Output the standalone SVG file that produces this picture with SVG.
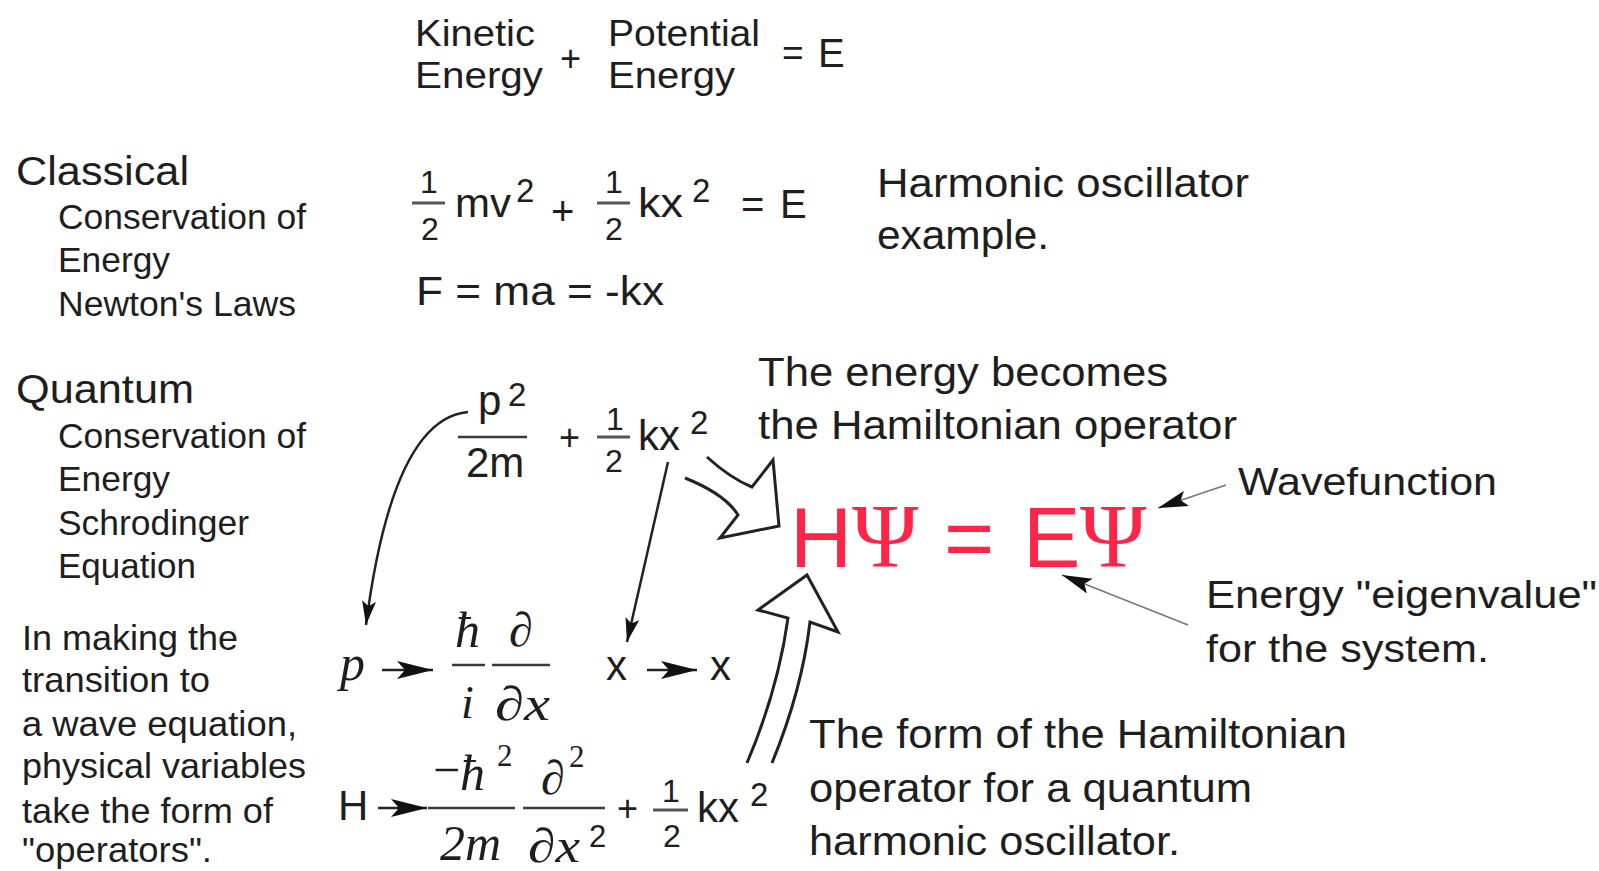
<svg xmlns="http://www.w3.org/2000/svg" width="1599" height="871" viewBox="0 0 1599 871">
<style>
text{font-family:"Liberation Sans",Arial,sans-serif;fill:#1e1e1e}
.hd{font-size:40px}
.sb{font-size:35px}
.lb{font-size:37px}
.an{font-size:41px}
.an2{font-size:38px}
.eq{font-size:40px}
.sup{font-size:33px}
.dg{font-size:32px}
.mi{font-family:"Liberation Serif","Times New Roman",serif;font-style:italic}
.sr{font-family:"Liberation Serif","Times New Roman",serif}
.red{fill:#ff2448;font-size:86px}
.bar{stroke:#3a3a3a;stroke-width:2.5;fill:none}
.bar2{stroke:#555;stroke-width:3;fill:none}
.ln{stroke:#222;stroke-width:2.5;fill:none}
.thin{stroke:#777;stroke-width:1.6;fill:none}
.hollow{stroke:#222;stroke-width:3;fill:none;stroke-linejoin:miter}
</style>
<defs>
<marker id="ah" viewBox="0 0 24 14" refX="24" refY="7" markerWidth="24" markerHeight="14" markerUnits="userSpaceOnUse" orient="auto">
<path d="M0,0 L24,7 L0,14 L5,7 z" fill="#111"/>
</marker>
<marker id="ahs" viewBox="0 0 30 16" refX="30" refY="8" markerWidth="30" markerHeight="16" markerUnits="userSpaceOnUse" orient="auto">
<path d="M0,0 L30,8 L0,16 L6,8 z" fill="#111"/>
</marker>
<marker id="op" viewBox="0 0 36 18" refX="36" refY="9" markerWidth="36" markerHeight="18" markerUnits="userSpaceOnUse" orient="auto">
<path d="M0,0 L36,9 L0,18 L8,9 z" fill="#111"/>
</marker>
</defs>

<g id="energy-words">
<text class="lb" x="415" y="46" textLength="120" lengthAdjust="spacingAndGlyphs">Kinetic</text>
<text class="lb" x="415" y="88" textLength="128" lengthAdjust="spacingAndGlyphs">Energy</text>
<text style="font-size:36px" x="560" y="71">+</text>
<text class="lb" x="608" y="46" textLength="152" lengthAdjust="spacingAndGlyphs">Potential</text>
<text class="lb" x="608" y="88" textLength="127" lengthAdjust="spacingAndGlyphs">Energy</text>
<text class="lb" x="782" y="65">=</text>
<text class="eq" x="818" y="67">E</text>
</g>

<g id="classical-label">
<text class="hd" x="16" y="185" textLength="173" lengthAdjust="spacingAndGlyphs">Classical</text>
<text class="sb" x="58" y="229" textLength="248" lengthAdjust="spacingAndGlyphs">Conservation of</text>
<text class="sb" x="58" y="272" textLength="112" lengthAdjust="spacingAndGlyphs">Energy</text>
<text class="sb" x="58" y="316" textLength="238" lengthAdjust="spacingAndGlyphs">Newton's Laws</text>
</g>

<g id="classical-equation">
<text class="dg" x="429" y="193" text-anchor="middle">1</text>
<line class="bar2" x1="412" y1="203" x2="445" y2="203"/>
<text class="dg" x="430" y="240" text-anchor="middle">2</text>
<text class="eq" x="455" y="217" textLength="56" lengthAdjust="spacingAndGlyphs">mv</text>
<text class="sup" x="516" y="202">2</text>
<text class="eq" x="551" y="225">+</text>
<text class="dg" x="614" y="193" text-anchor="middle">1</text>
<line class="bar2" x1="597" y1="203" x2="630" y2="203"/>
<text class="dg" x="614" y="240" text-anchor="middle">2</text>
<text class="eq" x="638" y="217" textLength="45" lengthAdjust="spacingAndGlyphs">kx</text>
<text class="sup" x="692" y="202">2</text>
<text class="eq" x="741" y="218">=</text>
<text class="eq" x="780" y="218">E</text>
<text class="eq" x="416" y="305" textLength="248" lengthAdjust="spacingAndGlyphs">F = ma = -kx</text>
</g>

<g id="harmonic-note">
<text class="an" x="877" y="197" textLength="372" lengthAdjust="spacingAndGlyphs">Harmonic oscillator</text>
<text class="an" x="877" y="249" textLength="172" lengthAdjust="spacingAndGlyphs">example.</text>
</g>

<g id="quantum-label">
<text class="hd" x="16" y="403" textLength="178" lengthAdjust="spacingAndGlyphs">Quantum</text>
<text class="sb" x="58" y="448" textLength="248" lengthAdjust="spacingAndGlyphs">Conservation of</text>
<text class="sb" x="58" y="491" textLength="112" lengthAdjust="spacingAndGlyphs">Energy</text>
<text class="sb" x="58" y="535" textLength="191" lengthAdjust="spacingAndGlyphs">Schrodinger</text>
<text class="sb" x="58" y="578" textLength="138" lengthAdjust="spacingAndGlyphs">Equation</text>
</g>

<g id="operator-note">
<text class="sb" x="22" y="650" textLength="216" lengthAdjust="spacingAndGlyphs">In making the</text>
<text class="sb" x="22" y="692" textLength="188" lengthAdjust="spacingAndGlyphs">transition to</text>
<text class="sb" x="22" y="736" textLength="275" lengthAdjust="spacingAndGlyphs">a wave equation,</text>
<text class="sb" x="22" y="778" textLength="284" lengthAdjust="spacingAndGlyphs">physical variables</text>
<text class="sb" x="22" y="823" textLength="251" lengthAdjust="spacingAndGlyphs">take the form of</text>
<text class="sb" x="22" y="862" textLength="190" lengthAdjust="spacingAndGlyphs">"operators".</text>
</g>

<g id="quantum-energy">
<text class="eq" x="478" y="415" style="font-size:42px">p</text>
<text class="sup" x="508" y="406">2</text>
<line class="bar" x1="458" y1="437" x2="527" y2="437"/>
<text class="eq" x="466" y="477" style="font-size:42px">2m</text>
<text class="eq" x="559" y="450" style="font-size:36px">+</text>
<text class="dg" x="615" y="430" text-anchor="middle">1</text>
<line class="bar2" x1="597" y1="437" x2="630" y2="437"/>
<text class="dg" x="614" y="472" text-anchor="middle">2</text>
<text class="eq" x="638" y="450" style="font-size:42px">kx</text>
<text class="sup" x="690" y="434">2</text>
</g>

<g id="p-operator">
<text class="mi" x="340" y="680" style="font-size:50px">p</text>
<text class="mi" x="455" y="647" style="font-size:50px">ħ</text>
<line class="bar" x1="452" y1="665" x2="485" y2="665"/>
<text class="mi" x="461" y="718" style="font-size:46px">i</text>
<text class="mi" x="509" y="646" style="font-size:48px">∂</text>
<line class="bar" x1="492" y1="665" x2="550" y2="665"/>
<text class="mi" x="495" y="720" style="font-size:48px" textLength="55" lengthAdjust="spacingAndGlyphs">∂x</text>
</g>

<g id="x-operator">
<text class="eq" x="606" y="680" style="font-size:42px">x</text>
<text class="eq" x="710" y="680" style="font-size:42px">x</text>
</g>

<g id="h-operator">
<text class="eq" x="338" y="820" style="font-size:42px">H</text>
<text class="sr" x="433" y="786" style="font-size:48px">−</text>
<text class="mi" x="460" y="790" style="font-size:50px">ħ</text>
<text class="sr" x="497" y="766" style="font-size:31px">2</text>
<line class="bar" x1="428" y1="808" x2="515" y2="808"/>
<text class="mi" x="440" y="860" style="font-size:50px">2m</text>
<text class="mi" x="541" y="794" style="font-size:48px">∂</text>
<text class="sr" x="569" y="767" style="font-size:31px">2</text>
<line class="bar" x1="523" y1="808" x2="605" y2="808"/>
<text class="mi" x="528" y="862" style="font-size:48px" textLength="52" lengthAdjust="spacingAndGlyphs">∂x</text>
<text class="sup" x="589" y="847" style="font-size:31px">2</text>
<text class="eq" x="617" y="821" style="font-size:36px">+</text>
<text class="dg" x="671" y="802" text-anchor="middle">1</text>
<line class="bar2" x1="653" y1="810" x2="688" y2="810"/>
<text class="dg" x="672" y="847" text-anchor="middle">2</text>
<text class="eq" x="697" y="822" style="font-size:42px">kx</text>
<text class="sup" x="750" y="806">2</text>
</g>

<g id="schrodinger">
<text class="red"><tspan x="790" y="567">H</tspan><tspan class="sr" x="852" y="567" style="font-size:90px">Ψ</tspan><tspan x="944" y="567">=</tspan><tspan x="1023" y="567">E</tspan><tspan class="sr" x="1080" y="567" style="font-size:90px">Ψ</tspan></text>
</g>

<g id="hamiltonian-note">
<text class="an" x="758" y="386" textLength="410" lengthAdjust="spacingAndGlyphs">The energy becomes</text>
<text class="an" x="758" y="439" textLength="479" lengthAdjust="spacingAndGlyphs">the Hamiltonian operator</text>
</g>

<g id="wavefunction-note">
<text class="an2" x="1238" y="495" textLength="259" lengthAdjust="spacingAndGlyphs">Wavefunction</text>
</g>

<g id="eigenvalue-note">
<text class="an2" x="1206" y="608" textLength="391" lengthAdjust="spacingAndGlyphs">Energy "eigenvalue"</text>
<text class="an2" x="1206" y="662" textLength="283" lengthAdjust="spacingAndGlyphs">for the system.</text>
</g>

<g id="form-note">
<text class="an" x="809" y="748" textLength="538" lengthAdjust="spacingAndGlyphs">The form of the Hamiltonian</text>
<text class="an" x="809" y="802" textLength="443" lengthAdjust="spacingAndGlyphs">operator for a quantum</text>
<text class="an" x="809" y="855" textLength="371" lengthAdjust="spacingAndGlyphs">harmonic oscillator.</text>
</g>

<g id="connectors">
<path class="ln" d="M468,412 C424,416 386,470 366,625" marker-end="url(#ah)"/>
<path class="ln" d="M668,462 L627,642" marker-end="url(#ah)"/>
<path class="thin" d="M1226,485 L1158,508" marker-end="url(#ahs)"/>
<path class="thin" d="M1188,625 L1062,575" marker-end="url(#ahs)"/>
<path class="ln" d="M382,670 L433,670" marker-end="url(#op)"/>
<path class="ln" d="M647,670 L697,670" marker-end="url(#op)"/>
<path class="ln" d="M378,808 L427,808" marker-end="url(#op)"/>
<path class="hollow" d="M707,457 Q730,478 752,487 L773,460 L779,526 L720,538 L738,515 Q725,494 685,478"/>
<path class="hollow" d="M747,763 Q778,690 788,618 L758,610 L807,575 L838,632 L810,622 Q802,690 772,763"/>
</g>
</svg>
